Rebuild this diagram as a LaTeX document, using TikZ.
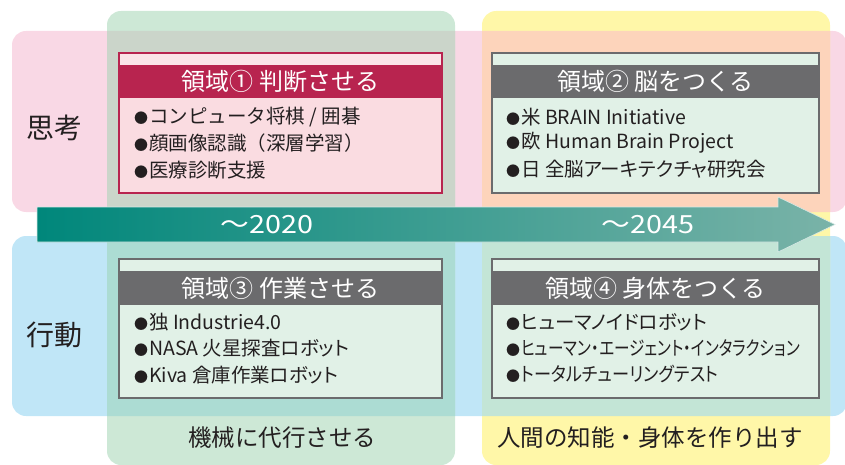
\documentclass[tikz,border=0pt]{standalone}
\usepackage{fontspec}
\setmainfont{Noto Sans CJK JP}
\newfontfamily\pfont[RawFeature=+palt]{Noto Sans CJK JP}
\definecolor{pinkband}{HTML}{F9D8E5}
\definecolor{blueband}{HTML}{C0E6F7}
\definecolor{greencol}{HTML}{CDE8D6}
\definecolor{yellowcol}{HTML}{FFF7A8}
\definecolor{greenpink}{HTML}{CBD5CA}
\definecolor{yellowpink}{HTML}{FDD4BB}
\definecolor{greenblue}{HTML}{ACDCD3}
\definecolor{yellowblue}{HTML}{C3E5D6}
\definecolor{arrowL}{HTML}{00877B}
\definecolor{arrowR}{HTML}{7AB3A8}
\definecolor{crimson}{HTML}{B8244F}
\definecolor{crimsonbody}{HTML}{FADCE1}
\definecolor{crimsonstrip}{HTML}{FBE4E8}
\definecolor{grayhead}{HTML}{6B6B6D}
\definecolor{mintbody}{HTML}{E1F1E7}
\definecolor{ink}{HTML}{231F20}
\newcommand{\bul}{{\fontsize{14}{14}\selectfont ●}\hspace{1pt}}
\begin{document}
\begin{tikzpicture}[x=1pt,y=-1pt,
  band/.style={rounded corners=14pt},
  headtext/.style={text=white,font=\fontsize{24}{24}\selectfont,inner sep=0pt},
  itemtext/.style={text=ink,font=\fontsize{19.5}{19.5}\selectfont,inner sep=0pt,anchor=west},
  rowlabel/.style={text=ink,font=\fontsize{28}{28}\selectfont,inner sep=0pt},
  collabel/.style={text=ink,font=\fontsize{23.5}{23.5}\selectfont,inner sep=0pt},
  yearlabel/.style={text=white,font=\fontsize{25}{25}\selectfont,inner sep=0pt,xscale=1.15}]
\useasboundingbox (0,0) rectangle (845,465);
% bands and columns
\fill[pinkband,band] (12,31) rectangle (847,212);
\fill[blueband,band] (12,236) rectangle (847,416);
\fill[greencol,band] (107,11) rectangle (455,465);
\fill[yellowcol,band] (482,11) rectangle (830,465);
\begin{scope}
  \clip[band] (107,11) rectangle (455,465);
  \fill[greenpink,band] (12,31) rectangle (847,212);
  \fill[greenblue,band] (12,236) rectangle (847,416);
\end{scope}
\begin{scope}
  \clip[band] (482,11) rectangle (830,465);
  \fill[yellowpink,band] (12,31) rectangle (847,212);
  \fill[yellowblue,band] (12,236) rectangle (847,416);
\end{scope}
% arrow
\shade[left color=arrowL,right color=arrowR,draw=white!70!arrowR,line width=0.6pt]
  (37,207) -- (778,207) -- (778,197) -- (835,224.5) -- (778,252) -- (778,242) -- (37,242) -- cycle;
\node[yearlabel] (y1) at (267,225) {～2020};
\node[yearlabel] (y2) at (648,225) {～2045};
% row / column labels
\node[rowlabel] (r1) at (54,128) {思考};
\node[rowlabel] (r2) at (54,335) {行動};
\node[collabel] (c1) at (282,438) {機械に代行させる};
\node[collabel] (c2) at (650,438) {人間の知能・身体を作り出す};
% box 1
\draw[crimson,line width=2.4pt,fill=crimsonbody] (119,53) rectangle (442,193);
\fill[crimsonstrip] (120.2,54.2) rectangle (440.8,65);
\fill[crimson] (120,65) rectangle (441,98);
\node[headtext] (h1) at (280.5,81.5) {領域① 判断させる};
\node[itemtext] (a1) at (134,117) {\bul コンピュータ将棋 / 囲碁};
\node[itemtext] (a2) at (134,143) {\bul 顔画像認識（深層学習）};
\node[itemtext] (a3) at (134,170) {\bul 医療診断支援};
% box 2
\draw[grayhead,line width=2.4pt,fill=mintbody] (492,53) rectangle (819,193);
\fill[grayhead] (493,65) rectangle (818,98);
\node[headtext] (h2) at (655.5,81.5) {領域② 脳をつくる};
\node[itemtext] (b1) at (506,117) {\bul 米 BRAIN Initiative};
\node[itemtext] (b2) at (506,143) {\bul 欧 Human Brain Project};
\node[itemtext] (b3) at (506,169) {\bul 日 全脳{\pfont アーキテクチャ}研究会};
% box 3
\draw[grayhead,line width=2.4pt,fill=mintbody] (119,259) rectangle (442,398);
\fill[grayhead] (120,271) rectangle (441,305);
\node[headtext] (h3) at (280.5,288) {領域③ 作業させる};
\node[itemtext] (d1) at (134,322) {\bul 独 Industrie4.0};
\node[itemtext] (d2) at (134,348) {\bul NASA 火星探査{\pfont ロボット}};
\node[itemtext] (d3) at (134,375) {\bul Kiva 倉庫作業{\pfont ロボット}};
% box 4
\draw[grayhead,line width=2.4pt,fill=mintbody] (492,259) rectangle (819,398);
\fill[grayhead] (493,271) rectangle (818,305);
\node[headtext] (h4) at (655.5,288) {領域④ 身体をつくる};
\node[itemtext] (e1) at (506,322) {\bul {\pfont ヒューマノイドロボット}};
\node[itemtext] (e2) at (506,348) {\bul \scalebox{0.8}[1]{\pfont ヒューマン・エージェント・インタラクション}};
\node[itemtext] (e3) at (506,374) {\bul \scalebox{0.88}[1]{\pfont トータルチューリングテスト}};
\end{tikzpicture}
\end{document}
